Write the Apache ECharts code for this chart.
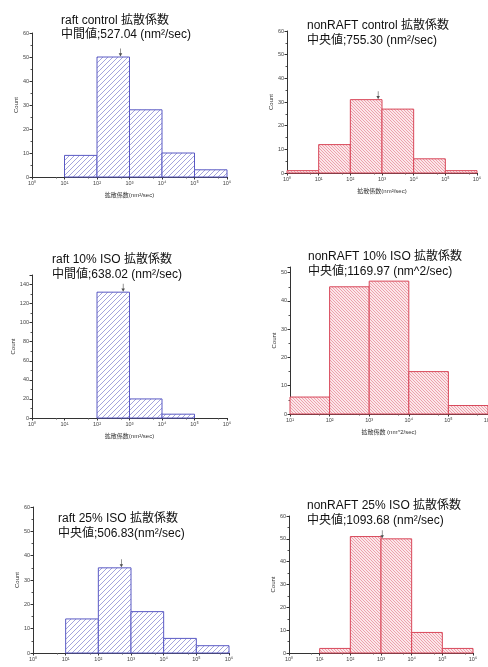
<!DOCTYPE html>
<html><head><meta charset="utf-8">
<script src="https://cdn.jsdelivr.net/npm/echarts@6/dist/echarts.min.js"></script>
<style>html,body{margin:0;padding:0;background:#fff;} #c{width:488px;height:667px;}</style>
</head><body><div id="c"></div>
<script>
// ---- data ----
const binEdges = [1, 10, 100, 1000, 10000, 100000, 1000000];
const raftControl    = [0, 9, 50, 28, 10, 3];
const nonraftControl = [1, 12, 31, 27, 6, 1];
const raft10         = [0, 0, 132, 20, 4, 0];
const nonraft10      = [0, 6, 45, 47, 15, 3];
const raft25         = [0, 14, 35, 17, 6, 3];
const nonraft25      = [0, 2, 51, 50, 9, 2];
const medians = [527.04, 755.30, 638.02, 1169.97, 506.83, 1093.68];
const titleLine1 = ['raft control 拡散係数', 'nonRAFT control 拡散係数', 'raft 10% ISO 拡散係数',
                    'nonRAFT 10% ISO 拡散係数', 'raft 25% ISO 拡散係数', 'nonRAFT 25% ISO 拡散係数'];
const medianLabels = ['中間値', '中央値', '中間値', '中央値', '中央値', '中央値'];
const unitTexts = [' (nm²/sec)', ' (nm²/sec)', ' (nm²/sec)', ' (nm^2/sec)', '(nm²/sec)', ' (nm²/sec)'];
const xAxisNames = ['拡散係数(nm²/sec)', '拡散係数(nm²/sec)', '拡散係数(nm²/sec)', '拡散係数 (nm^2/sec)', '拡散係数(nm²/sec)', '拡散係数(nm²/sec)'];
const yAxisName = 'Count';
const yTickMax = [60, 60, 150, 52, 60, 60];
const yTickStep = [10, 10, 20, 10, 10, 10];
const xMinValues = [1, 1, 1, 10, 1, 1];
const xMaxValue = 1000000;
const showArrow = [true, true, true, false, true, true];
const countsList = [raftControl, nonraftControl, raft10, nonraft10, raft25, nonraft25];

// ---- layout / style ----
const layout = [
  {grid:{left:32, top:33, width:195, height:144}, title:{left:61, top:13}, nameGap:15},
  {grid:{left:287, top:31, width:190, height:142}, title:{left:307, top:18.5}, nameGap:15},
  {grid:{left:32, top:275, width:195, height:143}, title:{left:52, top:252.5}, nameGap:15},
  {grid:{left:290, top:267, width:198, height:147}, title:{left:308, top:249.5}, nameGap:15},
  {grid:{left:33, top:507, width:196, height:146}, title:{left:58, top:511.5}, nameGap:17},
  {grid:{left:289, top:516, width:184, height:137}, title:{left:307, top:498.5}, nameGap:17}
];

function makePattern(dir, s, lineColor, bg) {
  const c = document.createElement('canvas');
  c.width = s; c.height = s;
  const ctx = c.getContext('2d');
  ctx.fillStyle = bg; ctx.fillRect(0, 0, s, s);
  ctx.strokeStyle = lineColor; ctx.lineWidth = 0.9;
  ctx.beginPath();
  for (let k = -1; k <= 1; k++) {
    if (dir === '/') { ctx.moveTo(k * s, s); ctx.lineTo(k * s + s, 0); }
    else { ctx.moveTo(k * s, 0); ctx.lineTo(k * s + s, s); }
  }
  ctx.stroke();
  return c;
}
const bluePattern = {image: makePattern('/', 5, 'rgba(120,120,205,0.75)', '#ffffff'), repeat: 'repeat'};
const redPattern = {image: makePattern('\\', 3, 'rgba(228,120,135,0.7)', '#fbe6e9'), repeat: 'repeat'};
const blueBorder = '#5a5ac4';
const redBorder = '#d8485a';

const supMap = {'0':'⁰','1':'¹','2':'²','3':'³','4':'⁴','5':'⁵','6':'⁶'};
const FONT = "'Liberation Sans', 'Noto Sans CJK JP', sans-serif";

const grids = [], xAxes = [], yAxes = [], series = [], titles = [];
countsList.forEach((counts, i) => {
  const raft = i % 2 === 0;
  grids.push(Object.assign({containLabel: false, outerBoundsMode: 'none'}, layout[i].grid));
  titles.push({
    text: titleLine1[i] + '\n' + medianLabels[i] + ';' + medians[i].toFixed(2) + unitTexts[i],
    left: layout[i].title.left, top: layout[i].title.top, padding: 0,
    textStyle: {fontFamily: FONT, fontSize: 12, fontWeight: 'normal', color: '#111', lineHeight: 14.5}
  });
  xAxes.push({
    type: 'log', logBase: 10, gridIndex: i, min: xMinValues[i], max: xMaxValue,
    name: xAxisNames[i], nameLocation: 'middle', nameGap: layout[i].nameGap,
    nameTextStyle: {fontFamily: FONT, fontSize: 6, color: '#333'},
    axisLine: {lineStyle: {color: '#333', width: 1}},
    axisTick: {show: true, length: 2.5, lineStyle: {color: '#333'}},
    minorTick: {show: true, splitNumber: 2, length: 1.5, lineStyle: {color: '#555'}},
    splitLine: {show: false}, minorSplitLine: {show: false},
    axisLabel: {fontSize: 5.5, color: '#444', margin: 4, fontFamily: FONT,
      formatter: v => '10' + String(Math.round(Math.log10(v))).split('').map(d => supMap[d]).join('')}
  });
  yAxes.push({
    type: 'value', gridIndex: i, min: 0, max: yTickMax[i], interval: yTickStep[i],
    name: yAxisName, nameLocation: 'middle', nameGap: 12,
    nameTextStyle: {fontFamily: FONT, fontSize: 6, color: '#333'},
    axisLine: {show: true, lineStyle: {color: '#333', width: 1}},
    axisTick: {show: true, length: 2.5, lineStyle: {color: '#333'}},
    minorTick: {show: true, splitNumber: 2, length: 1.5, lineStyle: {color: '#555'}},
    splitLine: {show: false},
    axisLabel: {fontSize: 5.5, color: '#444', margin: 3, fontFamily: FONT,
      showMaxLabel: yTickMax[i] % yTickStep[i] === 0}
  });
  const data = [];
  counts.forEach((cnt, j) => {
    if (cnt > 0 && binEdges[j] >= xMinValues[i]) data.push([binEdges[j], binEdges[j + 1], cnt]);
  });
  const pat = raft ? bluePattern : redPattern;
  const border = raft ? blueBorder : redBorder;
  series.push({
    type: 'custom', xAxisIndex: i, yAxisIndex: i, data: data,
    encode: {x: [0, 1], y: 2}, silent: true,
    renderItem: (params, api) => {
      const p1 = api.coord([api.value(0), api.value(2)]);
      const p2 = api.coord([api.value(1), 0]);
      return {type: 'rect', shape: {x: p1[0], y: p1[1], width: p2[0] - p1[0], height: p2[1] - p1[1]},
        style: {fill: pat, stroke: border, lineWidth: 1}};
    }
  });
  if (showArrow[i]) {
    let binCount = 0;
    for (let j = 0; j < counts.length; j++) {
      if (medians[i] >= binEdges[j] && medians[i] < binEdges[j + 1]) binCount = counts[j];
    }
    series.push({
      type: 'scatter', xAxisIndex: i, yAxisIndex: i, silent: true,
      data: [[medians[i], binCount]],
      symbol: 'path://M4.4,0 L5.6,0 L5.6,6 L8.5,6 L5,10 L1.5,6 L4.4,6 Z',
      symbolKeepAspect: false, symbolSize: [3.5, 8], symbolOffset: [0, -4.5],
      itemStyle: {color: '#222'}, z: 5
    });
  }
});

const chart = echarts.init(document.getElementById('c'), null, {renderer: 'canvas'});
chart.setOption({
  animation: false, backgroundColor: '#ffffff',
  title: titles, grid: grids, xAxis: xAxes, yAxis: yAxes, series: series
});
</script>
</body></html>
